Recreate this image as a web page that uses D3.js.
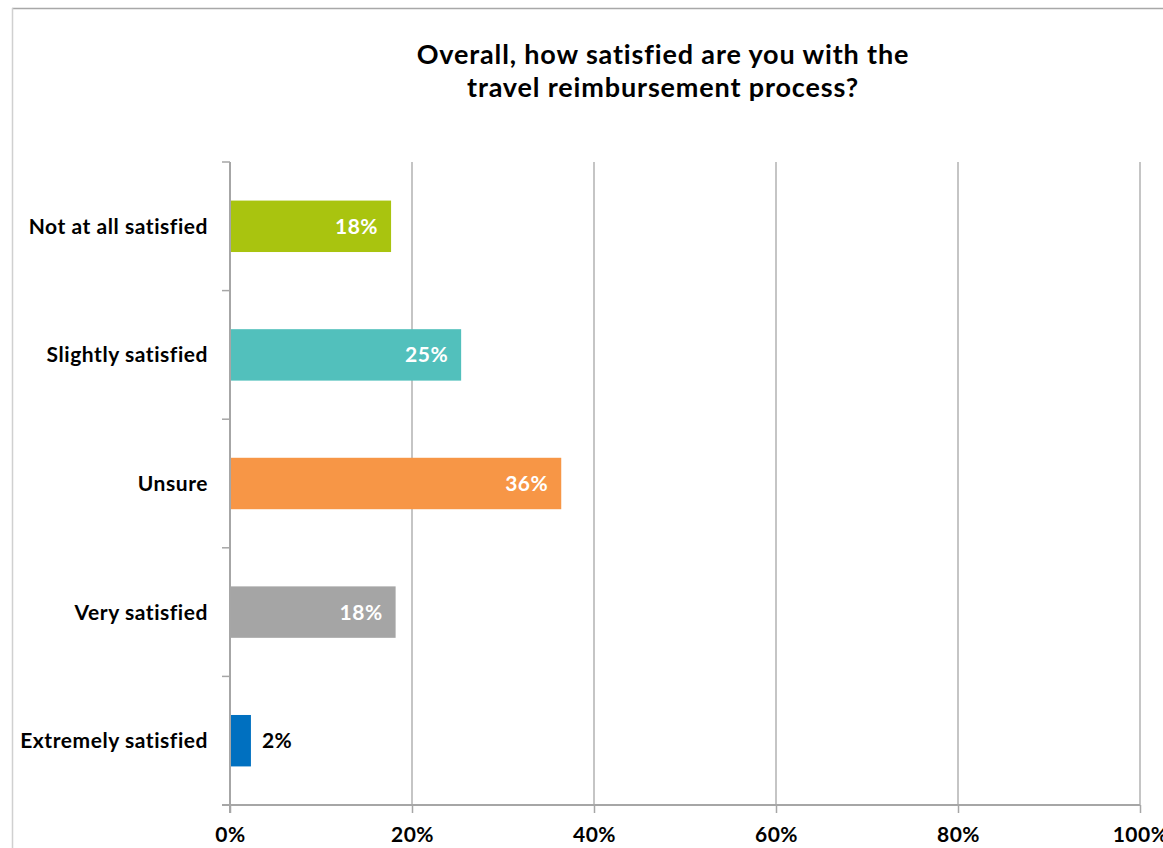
<!DOCTYPE html>
<html>
<head>
<meta charset="utf-8">
<script src="https://cdn.jsdelivr.net/npm/d3@7"></script>
<style>
  html, body { margin: 0; padding: 0; background: #fff; }
  svg { display: block; }
  text { font-family: Lato, "Open Sans", sans-serif; font-weight: bold; }
</style>
</head>
<body>
<svg id="chart" width="1163" height="848"></svg>
<script>
// Survey answers, top to bottom
const categories = ["Not at all satisfied", "Slightly satisfied", "Unsure", "Very satisfied", "Extremely satisfied"];
// Share of respondents (percent)
const values = [17.7, 25.4, 36.4, 18.2, 2.3];
const barColors = ["#a9c40f", "#52c0bc", "#f79646", "#a5a5a5", "#0070c0"];
const xTicks = [0, 20, 40, 60, 80, 100];
const titleLines = ["Overall, how satisfied are you with the", "travel reimbursement process?"];

const svg = d3.select("#chart");
const W = 1163, H = 848;
const plot = { left: 230, right: 1140, top: 162, bottom: 805 };

// frame of the chart area (top and left edges visible)
svg.append("line").attr("x1", 12).attr("x2", W).attr("y1", 8.5).attr("y2", 8.5)
  .attr("stroke", "#a8a8a8").attr("stroke-width", 1.5);
svg.append("line").attr("x1", 12.5).attr("x2", 12.5).attr("y1", 8).attr("y2", H)
  .attr("stroke", "#d0d0d0").attr("stroke-width", 1.5);

const x = d3.scaleLinear().domain([0, 100]).range([plot.left, plot.right]);
const y = d3.scaleBand().domain(categories).range([plot.top, plot.bottom])
  .paddingInner(0.6).paddingOuter(0.3);

const gridColor = "#a6a6a6";

// vertical gridlines
svg.append("g").selectAll("line").data(xTicks.slice(1)).join("line")
  .attr("x1", d => x(d)).attr("x2", d => x(d))
  .attr("y1", plot.top).attr("y2", plot.bottom)
  .attr("stroke", gridColor).attr("stroke-width", 1.3);

// bars
const data = categories.map((c, i) => ({ cat: c, value: values[i], color: barColors[i] }));
svg.append("g").selectAll("rect").data(data).join("rect")
  .attr("x", x(0)).attr("y", d => y(d.cat))
  .attr("width", d => x(d.value) - x(0)).attr("height", y.bandwidth())
  .attr("fill", d => d.color);

// x axis with ticks below
const xAxis = d3.axisBottom(x).tickValues(xTicks).tickSize(8).tickFormat(d => d + "%").tickPadding(14);
const gx = svg.append("g").attr("transform", `translate(0,${plot.bottom})`).call(xAxis);
gx.select(".domain").remove();
gx.append("line").attr("x1", plot.left - 8).attr("x2", plot.right).attr("y1", 0).attr("y2", 0)
  .attr("stroke", gridColor).attr("stroke-width", 2);
gx.selectAll(".tick line").attr("stroke", gridColor).attr("stroke-width", 1.5);
gx.selectAll(".tick text").attr("fill", "#000").attr("font-size", 21)
  .attr("letter-spacing", "0.5px")
  .attr("font-family", "Lato, sans-serif").attr("font-weight", "bold");

// y axis: line plus ticks on the category boundaries
const step = y.step();
const bounds = d3.range(categories.length + 1).map(i => plot.top + i * step);
svg.append("line").attr("x1", plot.left).attr("x2", plot.left)
  .attr("y1", plot.top).attr("y2", plot.bottom + 8)
  .attr("stroke", gridColor).attr("stroke-width", 2);
svg.append("g").selectAll("line").data(bounds).join("line")
  .attr("x1", plot.left - 8).attr("x2", plot.left)
  .attr("y1", d => d).attr("y2", d => d)
  .attr("stroke", gridColor).attr("stroke-width", 1.5);

// category labels
svg.append("g").selectAll("text").data(categories).join("text")
  .attr("x", 208).attr("y", d => y(d) + y.bandwidth() / 2)
  .attr("dy", "0.36em").attr("text-anchor", "end")
  .attr("font-size", 21).attr("letter-spacing", "0.55px").attr("fill", "#000")
  .text(d => d);

// value labels: inside the bar in white, outside in black for short bars
const fmt = d => Math.round(d) + "%";
svg.append("g").selectAll("text").data(data).join("text")
  .attr("x", d => d.value < 5 ? x(d.value) + 11 : x(d.value) - 13)
  .attr("y", d => y(d.cat) + y.bandwidth() / 2)
  .attr("dy", "0.36em")
  .attr("text-anchor", d => d.value < 5 ? "start" : "end")
  .attr("font-size", 21).attr("letter-spacing", "0.5px")
  .attr("fill", d => d.value < 5 ? "#000" : "#fff")
  .text(d => fmt(d.value));

// title
svg.append("g").selectAll("text").data(titleLines).join("text")
  .attr("x", 663).attr("y", (d, i) => 64 + i * 33)
  .attr("text-anchor", "middle").attr("font-size", 27).attr("letter-spacing", "0.85px")
  .attr("fill", "#000")
  .text(d => d);
</script>
</body>
</html>
